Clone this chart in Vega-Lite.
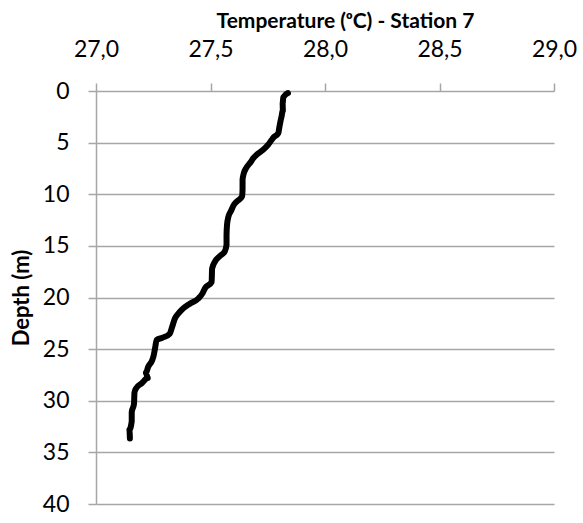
{
  "$schema": "https://vega.github.io/schema/vega-lite/v6.json",
  "width": 458,
  "height": 413,
  "autosize": "none",
  "padding": {"left": 96, "top": 91, "right": 29, "bottom": 19},
  "background": "white",
  "config": {
    "view": {"stroke": null},
    "font": "Lato",
    "axisX": {"labelFlush": false},
    "axis": {"labelFlush": false}
  },
  "data": {
    "values": [
      {"depth": 0.2, "temp": 27.838},
      {"depth": 0.6, "temp": 27.818},
      {"depth": 1.2, "temp": 27.815},
      {"depth": 1.9, "temp": 27.816},
      {"depth": 2.5, "temp": 27.81},
      {"depth": 2.9, "temp": 27.806},
      {"depth": 3.6, "temp": 27.8},
      {"depth": 4.1, "temp": 27.796},
      {"depth": 4.5, "temp": 27.775},
      {"depth": 4.8, "temp": 27.765},
      {"depth": 5.2, "temp": 27.752},
      {"depth": 5.7, "temp": 27.73},
      {"depth": 6.1, "temp": 27.705},
      {"depth": 6.5, "temp": 27.687},
      {"depth": 6.9, "temp": 27.675},
      {"depth": 7.5, "temp": 27.655},
      {"depth": 8.0, "temp": 27.645},
      {"depth": 8.6, "temp": 27.64},
      {"depth": 9.5, "temp": 27.64},
      {"depth": 10.2, "temp": 27.638},
      {"depth": 10.7, "temp": 27.615},
      {"depth": 11.1, "temp": 27.6},
      {"depth": 11.6, "temp": 27.59},
      {"depth": 12.2, "temp": 27.578},
      {"depth": 13.0, "temp": 27.572},
      {"depth": 14.0, "temp": 27.57},
      {"depth": 14.9, "temp": 27.57},
      {"depth": 15.5, "temp": 27.563},
      {"depth": 16.0, "temp": 27.54},
      {"depth": 16.5, "temp": 27.52},
      {"depth": 17.2, "temp": 27.507},
      {"depth": 18.5, "temp": 27.505},
      {"depth": 19.1, "temp": 27.476},
      {"depth": 19.6, "temp": 27.465},
      {"depth": 20.1, "temp": 27.447},
      {"depth": 20.6, "temp": 27.41},
      {"depth": 21.2, "temp": 27.374},
      {"depth": 21.6, "temp": 27.358},
      {"depth": 22.0, "temp": 27.345},
      {"depth": 22.8, "temp": 27.333},
      {"depth": 23.5, "temp": 27.322},
      {"depth": 23.9, "temp": 27.29},
      {"depth": 24.1, "temp": 27.265},
      {"depth": 24.9, "temp": 27.258},
      {"depth": 25.6, "temp": 27.252},
      {"depth": 26.1, "temp": 27.245},
      {"depth": 26.7, "temp": 27.228},
      {"depth": 27.3, "temp": 27.218},
      {"depth": 27.8, "temp": 27.226},
      {"depth": 28.3, "temp": 27.2},
      {"depth": 28.8, "temp": 27.175},
      {"depth": 29.2, "temp": 27.168},
      {"depth": 30.3, "temp": 27.166},
      {"depth": 31.1, "temp": 27.156},
      {"depth": 32.0, "temp": 27.156},
      {"depth": 32.8, "temp": 27.146},
      {"depth": 33.65, "temp": 27.148}
    ]
  },
  "mark": {
    "type": "line",
    "color": "black",
    "strokeWidth": 6,
    "strokeCap": "round",
    "strokeJoin": "round",
    "interpolate": "monotone"
  },
  "encoding": {
    "x": {
      "field": "temp",
      "type": "quantitative",
      "scale": {"domain": [27, 29], "nice": false, "zero": false},
      "axis": {
        "orient": "top",
        "values": [27, 27.5, 28, 28.5, 29],
        "labelExpr": "replace(format(datum.value, '.1f'), '.', ',')",
        "title": "Temperature (ᵒC) - Station 7",
        "titleFontSize": 21,
        "titleFontWeight": "bold",
        "titleColor": "black",
        "titleX": 249,
        "titleY": -64,
        "titleAlign": "center",
        "titleBaseline": "alphabetic",
        "labelFontSize": 23,
        "labelColor": "black",
        "labelPadding": 27,
        "labelBaseline": "alphabetic",
        "labelAlign": "center",
        "labelFlush": false,
        "grid": false,
        "domain": false,
        "tickColor": "#a6a6a6",
        "tickWidth": 1.5,
        "tickSize": 8
      }
    },
    "y": {
      "field": "depth",
      "type": "quantitative",
      "scale": {"domain": [0, 40], "reverse": true, "nice": false},
      "axis": {
        "values": [0, 5, 10, 15, 20, 25, 30, 35, 40],
        "title": "Depth (m)",
        "titleFontSize": 22,
        "titleFontWeight": "bold",
        "titleColor": "black",
        "titlePadding": 9,
        "labelFontSize": 23,
        "labelColor": "black",
        "labelPadding": 19,
        "grid": true,
        "gridColor": "#a6a6a6",
        "gridWidth": 1.5,
        "domainColor": "#a6a6a6",
        "domainWidth": 1.5,
        "tickColor": "#a6a6a6",
        "tickWidth": 1.5,
        "tickSize": 8
      }
    },
    "order": {"field": "depth", "type": "quantitative"}
  }
}
